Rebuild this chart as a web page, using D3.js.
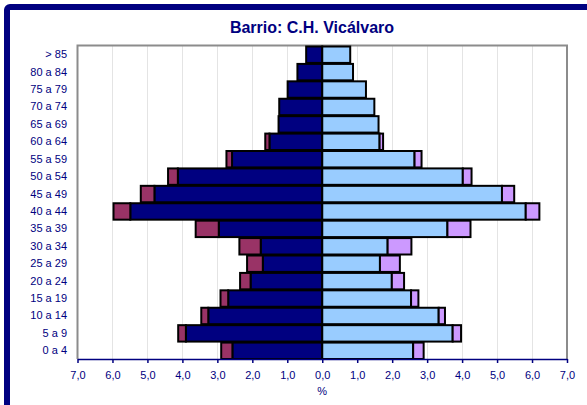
<!DOCTYPE html>
<html>
<head>
<meta charset="utf-8">
<script src="https://cdn.jsdelivr.net/npm/d3@7"></script>
<style>
  html, body { margin: 0; padding: 0; background: #ffffff; }
  svg { display: block; }
  text { font-family: "Liberation Sans", Arial, sans-serif; }
</style>
</head>
<body>
<svg id="chart" width="587" height="405"></svg>
<script>
// ---- Data (top to bottom, as displayed) ----
const ages = ["> 85","80 a 84","75 a 79","70 a 74","65 a 69","60 a 64","55 a 59","50 a 54","45 a 49","40 a 44","35 a 39","30 a 34","25 a 29","20 a 24","15 a 19","10 a 14","5 a 9","0 a 4"];
const menSpanish     = [0.46,0.71,0.99,1.23,1.25,1.51,2.58,4.13,4.80,5.49,2.96,1.76,1.70,2.05,2.69,3.26,3.90,2.57];
const menForeign     = [0.00,0.00,0.00,0.00,0.00,0.12,0.16,0.28,0.39,0.48,0.66,0.61,0.45,0.30,0.22,0.20,0.22,0.32];
const womenSpanish   = [0.80,0.88,1.25,1.49,1.61,1.64,2.64,4.02,5.14,5.82,3.58,1.87,1.65,1.99,2.54,3.33,3.73,2.60];
const womenForeign   = [0.00,0.00,0.00,0.00,0.00,0.10,0.20,0.25,0.35,0.39,0.66,0.68,0.57,0.35,0.21,0.18,0.24,0.30];
const tickValues = [-7,-6,-5,-4,-3,-2,-1,0,1,2,3,4,5,6,7];
const title = "Barrio: C.H. Vicálvaro";
const xTitle = "%";

const colors = { menSp: "#000080", menFo: "#993366", womSp: "#99CCFF", womFo: "#CC99FF" };
const navy = "#000080";

const svg = d3.select("#chart");

// outer frame
svg.append("rect").attr("x", 7).attr("y", 7).attr("width", 620).attr("height", 440)
  .attr("rx", 3).attr("fill", "#fff").attr("stroke", navy).attr("stroke-width", 6);

const pLeft = 77.5, pRight = 567, pTop = 45.5, pBottom = 359;
const x = d3.scaleLinear().domain([-7, 7]).range([pLeft, pRight]);
const y = d3.scaleBand().domain(ages).range([pTop, pBottom]).padding(0);

// title
svg.append("text").attr("x", 312).attr("y", 33).attr("text-anchor", "middle")
  .attr("font-size", 16).attr("font-weight", "bold").attr("fill", navy).text(title);

// gridlines
svg.append("g").selectAll("line").data(tickValues.filter(t => t !== 0 && Math.abs(t) !== 7))
  .join("line")
  .attr("x1", d => Math.round(x(d)) + 0.5).attr("x2", d => Math.round(x(d)) + 0.5)
  .attr("y1", pTop).attr("y2", pBottom)
  .attr("stroke", "#c8c8c8").attr("stroke-width", 1).attr("stroke-dasharray", "1,1");

// plot border (left, top, right)
svg.append("path")
  .attr("d", `M${pLeft},${pBottom} V${pTop} H${pRight} V${pBottom}`)
  .attr("fill", "none").attr("stroke", "#8c8c8c").attr("stroke-width", 2);

// bars
const rows = ages.map((a, i) => ({ age: a, ms: menSpanish[i], mf: menForeign[i], ws: womenSpanish[i], wf: womenForeign[i] }));
const segs = [];
rows.forEach(r => {
  segs.push({ age: r.age, x0: -r.ms, x1: 0, c: colors.menSp });
  if (r.mf > 0) segs.push({ age: r.age, x0: -(r.ms + r.mf), x1: -r.ms, c: colors.menFo });
  segs.push({ age: r.age, x0: 0, x1: r.ws, c: colors.womSp });
  if (r.wf > 0) segs.push({ age: r.age, x0: r.ws, x1: r.ws + r.wf, c: colors.womFo });
});
svg.append("g").selectAll("rect").data(segs).join("rect")
  .attr("x", d => x(d.x0)).attr("width", d => x(d.x1) - x(d.x0))
  .attr("y", d => y(d.age) + 1).attr("height", y.bandwidth() - 1)
  .attr("fill", d => d.c).attr("stroke", "#000").attr("stroke-width", 2);

// y labels
svg.append("g").selectAll("text").data(ages).join("text")
  .attr("x", 67).attr("y", d => y(d) + y.bandwidth() / 2 + 4)
  .attr("text-anchor", "end").attr("font-size", 11).attr("fill", navy).text(d => d);

// x axis
const fmt = v => d3.format(".1f")(Math.abs(v)).replace(".", ",");
const xAxis = svg.append("g").attr("transform", `translate(0,${pBottom})`)
  .call(d3.axisBottom(x).tickValues(tickValues).tickSize(4).tickSizeOuter(0).tickFormat(fmt));
xAxis.select(".domain").attr("stroke", navy).attr("stroke-width", 1.5);
xAxis.selectAll(".tick line").attr("stroke", navy).attr("stroke-width", 1.5);
xAxis.selectAll(".tick text").attr("fill", navy).attr("font-size", 11)
  .attr("font-family", "'Liberation Sans', Arial, sans-serif").attr("dy", 0).attr("y", 19.5);

svg.append("text").attr("x", x(0)).attr("y", 395).attr("text-anchor", "middle")
  .attr("font-size", 11).attr("fill", navy).text(xTitle);
</script>
</body>
</html>
